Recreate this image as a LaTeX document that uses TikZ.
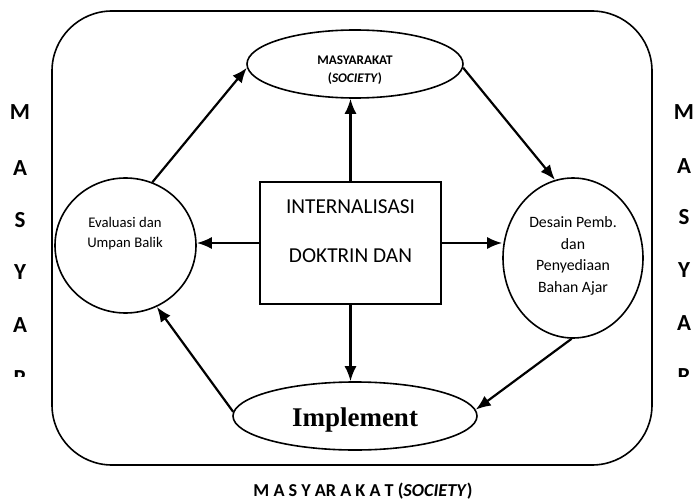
\documentclass[tikz,border=0pt]{standalone}
\usepackage{fontspec}
\setmainfont{Carlito}
\newfontfamily\serifimpl{Liberation Serif}
\usetikzlibrary{shapes.geometric,arrows.meta}
\begin{document}
\begin{tikzpicture}[x=1pt,y=-1pt,
  shp/.style={draw=black,line width=1.6pt,inner sep=0pt},
  ell/.style={shp,ellipse},
  arr/.style={line width=2.2pt,-{Latex[length=15pt,width=12pt]}},
  side/.style={font=\fontsize{23}{26}\selectfont\bfseries,anchor=base},
  lsmall/.style={font=\fontsize{14.7}{17}\selectfont,anchor=base},
  rsmall/.style={font=\fontsize{15.8}{18}\selectfont,anchor=base}]
\useasboundingbox (0,0) rectangle (694,503);
% outer frame
\draw[line width=1.6pt,rounded corners=60pt] (52,11) rectangle (652,465);
% nodes
\node[ell,minimum width=216pt,minimum height=68pt] (top) at (355,64) {};
\node[font=\fontsize{13.2}{15}\selectfont\bfseries,anchor=base] (topa) at (355,64.3) {MASYARAKAT};
\node[font=\fontsize{13.2}{15}\selectfont\bfseries,anchor=base] (topb) at (355,83) {(\textit{SOCIETY})};
\node[shp,rectangle,minimum width=181pt,minimum height=122pt] (box) at (350.5,243) {};
\node[font=\fontsize{21.3}{24}\selectfont,anchor=base] (boxa) at (350.5,213.5) {INTERNALISASI};
\node[font=\fontsize{21.3}{24}\selectfont,anchor=base] (boxb) at (350.5,262.5) {DOKTRIN DAN};
\node[ell,minimum width=141pt,minimum height=135pt] (lc) at (125.5,245.5) {};
\node[lsmall] (lca) at (125,227) {Evaluasi dan};
\node[lsmall] (lcb) at (125,247) {Umpan Balik};
\node[ell,minimum width=140pt,minimum height=160pt] (rc) at (573,258) {};
\node[rsmall] (rca) at (573,227) {Desain Pemb.};
\node[rsmall] (rcb) at (573,249) {dan};
\node[rsmall] (rcc) at (573,270) {Penyediaan};
\node[rsmall] (rcd) at (573,292) {Bahan Ajar};
\node[ell,minimum width=244pt,minimum height=68pt] (bot) at (355,416) {};
\node[font=\fontsize{27}{30}\selectfont\serifimpl\bfseries,anchor=base] (impl) at (355,426.7) {Implement};
% arrows
\draw[arr] (lc.67) -- (top.182);
\draw[arr] (top.-2) -- (rc.103);
\draw[arr] (box.north) -- (box.north |- top.south);
\draw[arr] (box.west) -- (box.west -| lc.east);
\draw[arr] (box.east) -- (box.east -| rc.west);
\draw[arr] (box.south) -- (box.south |- bot.north);
\draw[arr] (rc.269) -- (bot.3);
\draw[arr] (bot.178) -- (lc.-63);
% side letters
\begin{scope}
\clip (0,0) rectangle (694,376);
\node[side] (l1) at (20,119) {M};
\node[side] (l2) at (20,175) {A};
\node[side] (l3) at (20,227) {S};
\node[side] (l4) at (20,279) {Y};
\node[side] (l5) at (20,332) {A};
\node[side] (l6) at (20,385) {R};
\node[side] (r1) at (684,119) {M};
\node[side] (r2) at (684,173) {A};
\node[side] (r3) at (684,224) {S};
\node[side] (r4) at (684,277) {Y};
\node[side] (r5) at (684,330) {A};
\node[side] (r6) at (684,383) {R};
\end{scope}
\node[font=\fontsize{18.2}{21}\selectfont\bfseries,anchor=base] (bt) at (363,496.7) {M A S Y AR A K A T (\textit{SOCIETY})};
\end{tikzpicture}
\end{document}
